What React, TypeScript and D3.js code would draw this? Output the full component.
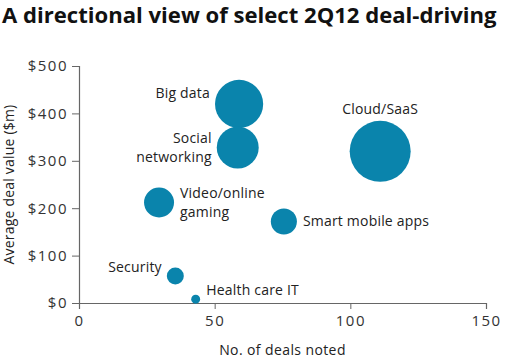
import { useEffect, useRef } from 'react';
import { select, scaleLinear, scaleSqrt, axisBottom, axisLeft } from 'd3';

const sectors = [
  'Big data',
  'Social networking',
  'Cloud/SaaS',
  'Smart mobile apps',
  'Video/online gaming',
  'Security',
  'Health care IT',
];
const dealCounts = [59, 58.5, 111, 75.5, 29.5, 35.5, 43];
const avgDealValues = [420, 328, 320, 172, 212, 57, 8];
const bubbleSizes = [580, 440, 930, 170, 225, 72, 20];

// label lines and placement relative to each bubble
const labelLines = [
  ['Big data'],
  ['Social', 'networking'],
  ['Cloud/SaaS'],
  ['Smart mobile apps'],
  ['Video/online', 'gaming'],
  ['Security'],
  ['Health care IT'],
];
const labelSides = ['left', 'left', 'top', 'right', 'right', 'left', 'right'];

const xTicks = [0, 50, 100, 150];
const yTicks = [0, 100, 200, 300, 400, 500];

const FONT = "'Open Sans', sans-serif";
const BLUE = '#0a84ac';

const App = () => {
  const svgRef = useRef(null);

  useEffect(() => {
    const svg = select(svgRef.current);
    svg.selectAll('*').remove();

    const margin = { left: 79, right: 19, top: 66, bottom: 57 };
    const width = 505;
    const height = 360;

    const xScale = scaleLinear().domain([0, 150]).range([margin.left, width - margin.right]);
    const yScale = scaleLinear().domain([0, 500]).range([height - margin.bottom, margin.top]);
    const rScale = scaleSqrt().domain([0, 930]).range([0, 30.5]);

    svg
      .append('text')
      .attr('x', 2)
      .attr('y', 23)
      .attr('font-family', FONT)
      .attr('font-weight', 'bold')
      .attr('font-size', 22.1)
      .attr('fill', '#111')
      .text('A directional view of select 2Q12 deal-driving');

    const xAxis = svg
      .append('g')
      .attr('transform', `translate(0, ${yScale(0)})`)
      .call(axisBottom(xScale).tickValues(xTicks).tickSize(6).tickPadding(6));
    const yAxis = svg
      .append('g')
      .attr('transform', `translate(${margin.left}, 0)`)
      .call(
        axisLeft(yScale)
          .tickValues(yTicks)
          .tickSize(7)
          .tickPadding(4)
          .tickFormat((d) => `$${d}`)
      );

    [xAxis, yAxis].forEach((ax) => {
      ax.select('.domain').attr('stroke', '#666').attr('stroke-width', 1.2);
      ax.selectAll('.tick line').attr('stroke', '#666');
      ax.selectAll('.tick text')
        .attr('font-family', FONT)
        .attr('font-size', 15)
        .attr('letter-spacing', 1.5)
        .attr('fill', '#333');
    });

    svg
      .append('text')
      .attr('x', xScale(75))
      .attr('y', 355)
      .attr('text-anchor', 'middle')
      .attr('font-family', FONT)
      .attr('font-size', 14)
      .attr('letter-spacing', 0.4)
      .attr('fill', '#222')
      .text('No. of deals noted');

    svg
      .append('text')
      .attr('transform', `translate(14, ${yScale(250)}) rotate(-90)`)
      .attr('text-anchor', 'middle')
      .attr('font-family', FONT)
      .attr('font-size', 14)
      .attr('letter-spacing', 0.2)
      .attr('fill', '#222')
      .text('Average deal value ($m)');

    const data = sectors.map((name, i) => ({
      name,
      x: dealCounts[i],
      y: avgDealValues[i],
      size: bubbleSizes[i],
      lines: labelLines[i],
      side: labelSides[i],
    }));

    svg
      .selectAll('.bubble')
      .data(data)
      .join('circle')
      .attr('class', 'bubble')
      .attr('cx', (d) => xScale(d.x))
      .attr('cy', (d) => yScale(d.y))
      .attr('r', (d) => rScale(d.size))
      .attr('fill', BLUE);

    const lineHeight = 19;
    data.forEach((d) => {
      const cx = xScale(d.x);
      const cy = yScale(d.y);
      const r = rScale(d.size);
      let x = cx;
      let y = cy;
      let anchor = 'middle';
      if (d.side === 'left') {
        x = cx - r - 5;
        anchor = 'end';
      } else if (d.side === 'right') {
        x = cx + r + 6;
        anchor = 'start';
      } else {
        y = cy - r - 12;
      }
      if (d.name === 'Big data') y = cy - 11;
      if (d.name === 'Security') y = cy - 9;
      if (d.name === 'Health care IT') y = cy - 9;

      const firstY = y - ((d.lines.length - 1) * lineHeight) / 2;
      const t = svg
        .append('text')
        .attr('text-anchor', anchor)
        .attr('font-family', FONT)
        .attr('font-size', 14)
        .attr('letter-spacing', 0.2)
        .attr('fill', '#222');
      d.lines.forEach((line, j) => {
        t.append('tspan')
          .attr('x', x)
          .attr('y', firstY + j * lineHeight)
          .attr('dy', '0.35em')
          .text(line);
      });
    });
  }, []);

  return (
    <svg
      ref={svgRef}
      width={505}
      height={360}
      style={{ position: 'absolute', left: 0, top: 0, background: '#fff' }}
    />
  );
};

export default App;
